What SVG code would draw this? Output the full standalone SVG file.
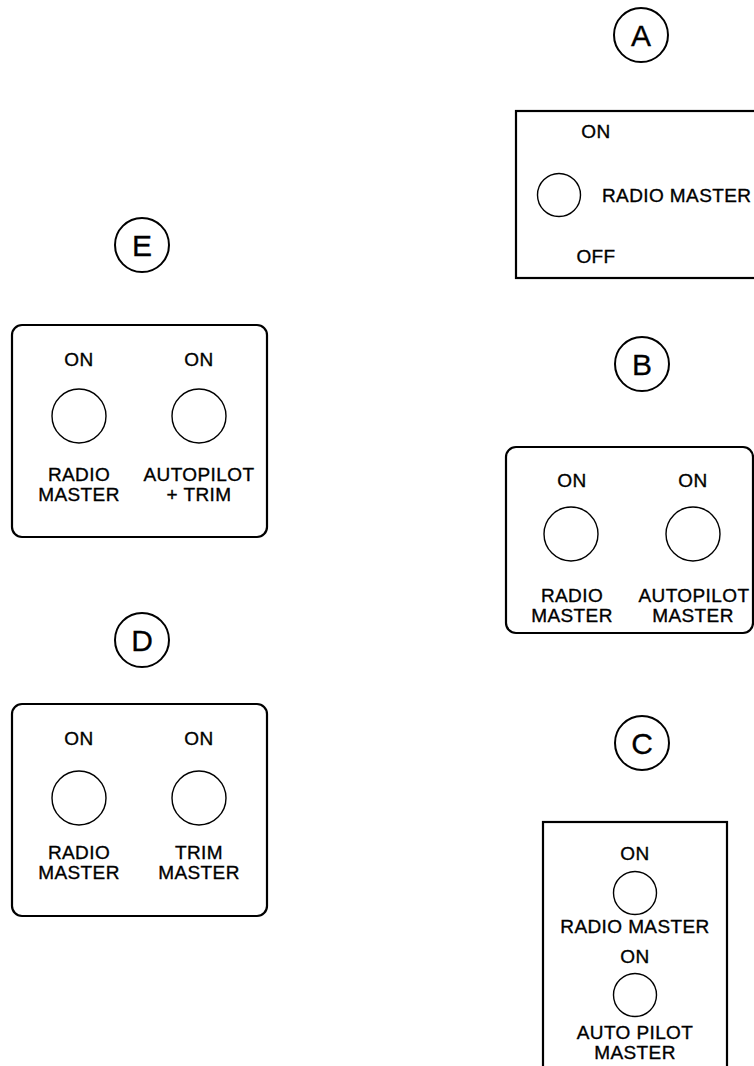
<svg xmlns="http://www.w3.org/2000/svg" width="754" height="1066" viewBox="0 0 754 1066">
<style>
.lc{fill:none;stroke:#000;stroke-width:2}
.sw{fill:none;stroke:#000;stroke-width:1.4}
.box{fill:none;stroke:#000;stroke-width:2.2}
text{font-family:"Liberation Sans",Arial,Helvetica,sans-serif;font-size:19px;fill:#000;stroke:#000;stroke-width:0.35;text-anchor:middle;letter-spacing:0.4px}
.big{font-size:30px;letter-spacing:0;stroke-width:0.3}
.st{text-anchor:start}
</style>
<rect width="754" height="1066" fill="#fff"/>
<g id="connectors"/>
<g id="panel-A">
<circle class="lc" cx="641" cy="35" r="27"/>
<text class="big" x="641" y="46">A</text>
<rect class="box" x="516" y="111" width="260" height="167"/>
<text x="596" y="138">ON</text>
<circle class="sw" cx="559" cy="195" r="21.5"/>
<text class="st" x="602" y="202">RADIO MASTER</text>
<text x="596" y="263">OFF</text>
</g>
<g id="panel-B">
<circle class="lc" cx="642" cy="364" r="27"/>
<text class="big" x="642" y="375">B</text>
<rect class="box" x="506" y="447" width="247" height="186" rx="10"/>
<text x="572" y="487">ON</text>
<text x="693" y="487">ON</text>
<circle class="sw" cx="571" cy="534" r="27"/>
<circle class="sw" cx="693" cy="534" r="27"/>
<text x="572" y="602">RADIO</text>
<text x="572" y="622">MASTER</text>
<text x="694" y="602">AUTOPILOT</text>
<text x="693" y="622">MASTER</text>
</g>
<g id="panel-C">
<circle class="lc" cx="642" cy="743" r="27"/>
<text class="big" x="642" y="754">C</text>
<rect class="box" x="543" y="822" width="184" height="260"/>
<text x="635" y="860">ON</text>
<circle class="sw" cx="635" cy="893" r="21.5"/>
<text x="635" y="933">RADIO MASTER</text>
<text x="635" y="963">ON</text>
<circle class="sw" cx="635" cy="995" r="21.5"/>
<text x="635" y="1039">AUTO PILOT</text>
<text x="635" y="1059">MASTER</text>
</g>
<g id="panel-E">
<circle class="lc" cx="142" cy="245" r="27"/>
<text class="big" x="142" y="256">E</text>
<rect class="box" x="12" y="325" width="255" height="212" rx="10"/>
<text x="79" y="366">ON</text>
<text x="199" y="366">ON</text>
<circle class="sw" cx="79" cy="416" r="27"/>
<circle class="sw" cx="199" cy="416" r="27"/>
<text x="79" y="481">RADIO</text>
<text x="79" y="501">MASTER</text>
<text x="199" y="481">AUTOPILOT</text>
<text x="199" y="501">+ TRIM</text>
</g>
<g id="panel-D">
<circle class="lc" cx="142" cy="640" r="27"/>
<text class="big" x="142" y="651">D</text>
<rect class="box" x="12" y="704" width="255" height="212" rx="10"/>
<text x="79" y="745">ON</text>
<text x="199" y="745">ON</text>
<circle class="sw" cx="79" cy="798" r="27"/>
<circle class="sw" cx="199" cy="798" r="27"/>
<text x="79" y="859">RADIO</text>
<text x="79" y="879">MASTER</text>
<text x="199" y="859">TRIM</text>
<text x="199" y="879">MASTER</text>
</g>
</svg>
